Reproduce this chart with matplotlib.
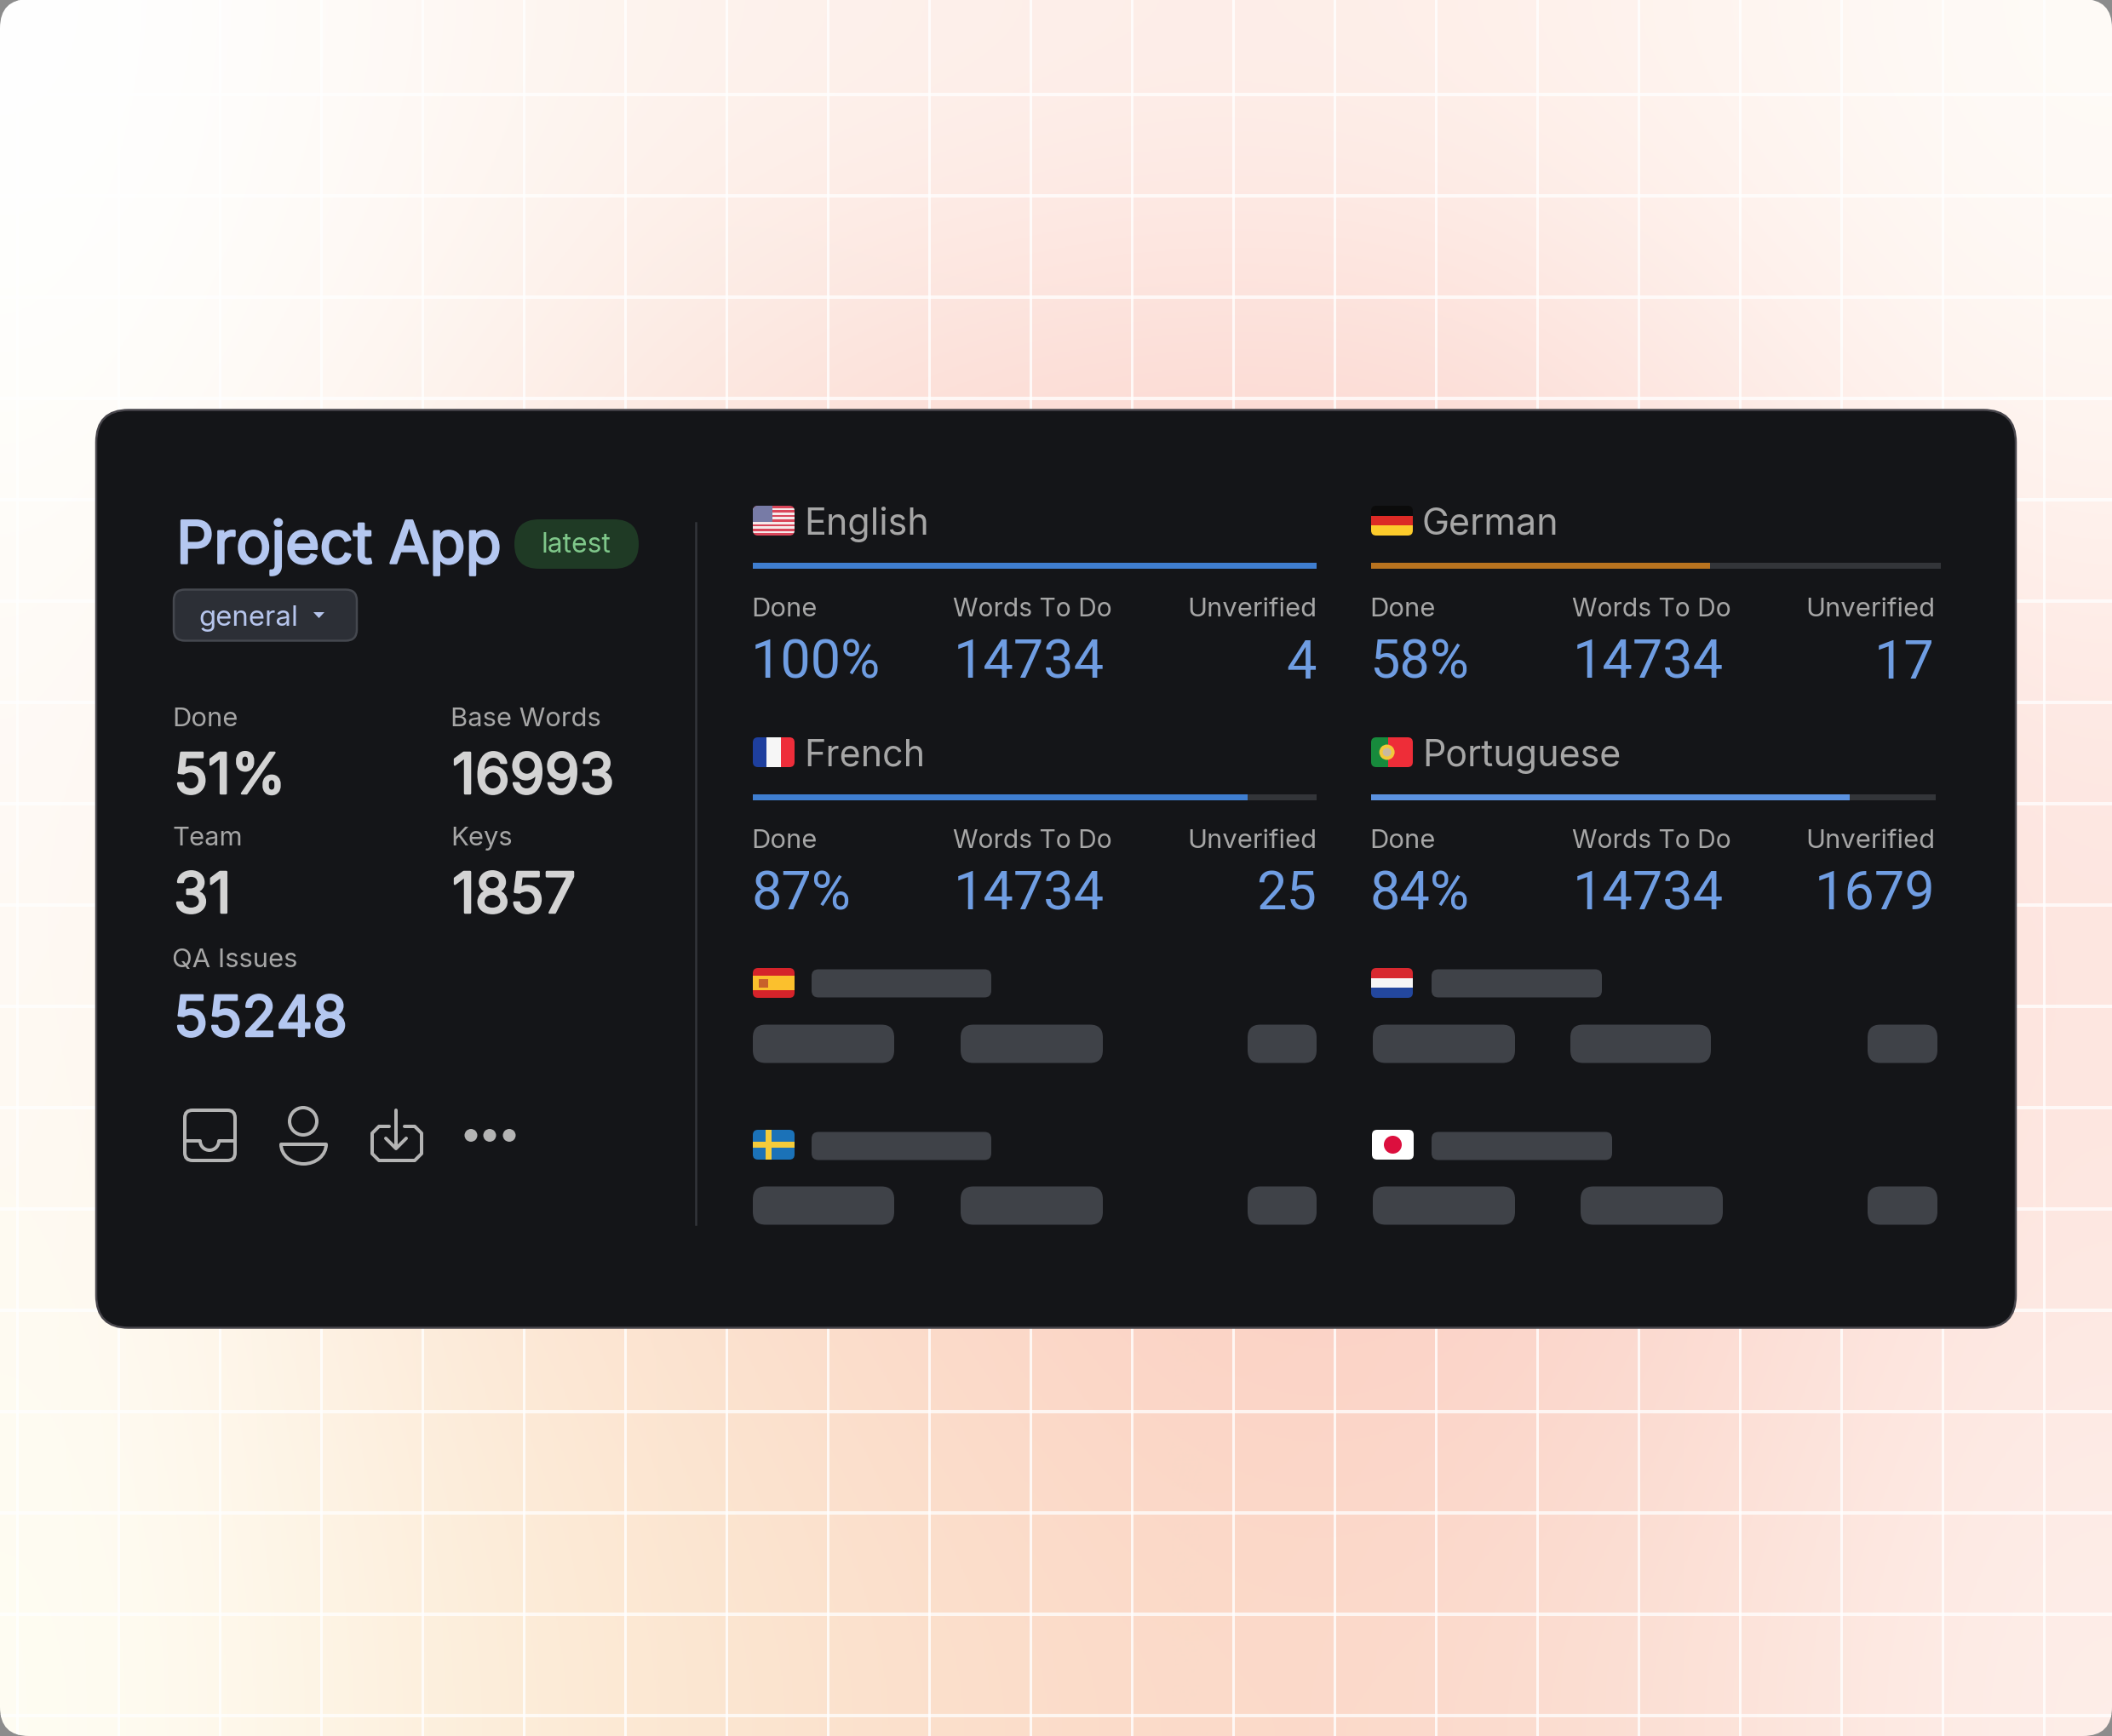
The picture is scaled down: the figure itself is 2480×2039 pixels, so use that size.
#Project dashboard card, drawn in pixel coordinates
import numpy as np
import matplotlib
matplotlib.use('Agg')
import matplotlib.pyplot as plt
from matplotlib import patheffects
from matplotlib.patches import FancyBboxPatch, Rectangle, Circle, Arc, Polygon

plt.rcParams['font.family'] = ['Inter', 'DejaVu Sans']

# DATA
project_name = 'Project App'
project_tag = 'latest'
branch_name = 'general'
summary_labels = ['Done', 'Base Words', 'Team', 'Keys', 'QA Issues']
summary_values = ['51%', '16993', '31', '1857', '55248']

languages = ['English', 'German', 'French', 'Portuguese']
done_pct = [100, 58, 87, 84]
bar_fill_pct = [100, 59.5, 87.8, 84.7]   # as drawn in the picture, not quite the printed %
words_to_do = [14734, 14734, 14734, 14734]
unverified = [4, 17, 25, 1679]
bar_colors = ['#3f7ed0', '#b8731f', '#3f7ed0', '#5b92e0']
column_labels = ['Done', 'Words To Do', 'Unverified']

# background colour samples, 8 columns by 6 rows
bg_samples = [
    ['#ffffff', '#fffaf6', '#fdf3ed', '#fef1ec', '#feeee9', '#fef0ea', '#fff5f0', '#fffbf7'],
    ['#fffefa', '#fef6f0', '#fce8e0', '#fcdcd4', '#fcd8d1', '#fcd9d2', '#fde8e3', '#fff6f1'],
    ['#fffaf6', '#fce8e0', '#fcdcd4', '#fcd6cf', '#fcd4cc', '#fcd4cd', '#fcdcd5', '#fee8e3'],
    ['#fffaf4', '#fce7da', '#fcdccd', '#fbd5c9', '#fbd1c7', '#fbd1c7', '#fcd9d0', '#fde6e0'],
    ['#fffbf2', '#fdeddc', '#fce3cf', '#fbdac9', '#fbd2c5', '#fbd1c6', '#fcdbd2', '#fee9e3'],
    ['#fffdf3', '#fdf1df', '#fce8d2', '#fbe0cc', '#fbdac8', '#fbdacc', '#fce2d8', '#feeee9'],
]

# LAYOUT
W, H = 2480, 2040
DPI = 100
grid_x0, grid_y0, grid_step = 20, 112, 119
card = (113, 482.5, 2254, 1078)
label_col = '#a6a6a6'
num_col = '#d3d3d3'
blue_col = '#6f9de2'
pale_col = '#b4c7f0'
skel_col = '#3f4248'
track_col = '#333539'
icon_col = '#b4b4b4'


def px(size):
    return size * 72 / DPI


fig = plt.figure(figsize=(W / DPI, H / DPI), dpi=DPI, facecolor='#8c8c8c')
ax = fig.add_axes([0, 0, 1, 1])
ax.axis('off')


def rbox(x, y, w, h, r, fc, ec='none', lw=0, z=3):
    p = FancyBboxPatch((x + r, y + r), w - 2 * r, h - 2 * r,
                       boxstyle=f'round,pad={r},rounding_size={r}',
                       fc=fc, ec=ec, lw=px(lw), zorder=z)
    ax.add_patch(p)
    return p


def txt(x, y, s, size, color, ha='left', bold=0, family=None):
    t = ax.text(x, y, s, fontsize=px(size), color=color, ha=ha, va='baseline', zorder=6)
    if family:
        t.set_family(family)
    if bold:
        t.set_path_effects([patheffects.withStroke(linewidth=px(bold), foreground=color)])
    return t


def stroke_line(xs, ys, lw=4):
    ax.plot(xs, ys, color=icon_col, lw=px(lw), solid_capstyle='round', solid_joinstyle='round', zorder=5)


# BACKGROUND
rgb = np.array([[matplotlib.colors.to_rgb(c) for c in row] for row in bg_samples])
page = rbox(0, 0, W, H, 34, 'none', z=0)
im = ax.imshow(rgb, extent=(0, W, H, 0), interpolation='bicubic', aspect='auto', zorder=1)
im.set_clip_path(page)
ax.set_xlim(0, W)
ax.set_ylim(H, 0)

for gx in np.arange(grid_x0, W, grid_step):
    ln = ax.axvline(gx, color='white', alpha=0.8, lw=px(3), zorder=2)
    ln.set_clip_path(page)
for gy in np.arange(grid_y0 % grid_step, H, grid_step):
    ln = ax.axhline(gy, color='white', alpha=0.75, lw=px(4), zorder=2)
    ln.set_clip_path(page)

# CARD
rbox(*card, 38, '#141518', ec='#47454b', lw=2.5, z=3)
ax.plot([817, 817], [615, 1439], color='#33353a', lw=px(2.5), zorder=4)

# LEFT PANEL
txt(207, 662.5, project_name, 69, pale_col, bold=2.5)
rbox(604, 611, 146, 58, 29, '#1f3a25', z=4)
txt(676, 649, project_tag, 32, '#7fc78a', ha='center')
rbox(204, 693.5, 215, 60, 13, '#2c2f36', ec='#45484f', lw=2.5, z=4)
txt(233, 735, branch_name, 33, '#b6c5ec')
ax.add_patch(Polygon([[368, 720], [381, 720], [374.5, 727]], fc='#b6c5ec', ec='none', zorder=5))

summary_x = [202, 529, 202, 529, 202]
summary_label_y = [853, 853, 993, 993, 1136]
summary_value_y = [933, 933, 1073, 1073, 1218]
summary_colors = [num_col, num_col, num_col, num_col, pale_col]
for i in range(len(summary_labels)):
    txt(summary_x[i], summary_label_y[i], summary_labels[i], 31, label_col)
    txt(summary_x[i] + 2, summary_value_y[i], summary_values[i], 66, summary_colors[i], bold=2.5)

# inbox icon
ax.add_patch(FancyBboxPatch((226, 1314), 41, 41, boxstyle='round,pad=9,rounding_size=9',
                            fc='none', ec=icon_col, lw=px(4), zorder=5))
stroke_line([217, 235], [1341, 1341])
stroke_line([257, 276], [1341, 1341])
ax.add_patch(Arc((246, 1341), 22, 22, theta1=0, theta2=180, ec=icon_col, lw=px(4), zorder=5))
# person icon
ax.add_patch(Circle((356, 1318), 16, fc='none', ec=icon_col, lw=px(4), zorder=5))
stroke_line([330, 383], [1345, 1345])
ax.add_patch(Arc((356.5, 1345), 53, 46, theta1=0, theta2=180, ec=icon_col, lw=px(4), zorder=5))
# download icon
stroke_line([457, 445, 437, 437, 445, 487, 495, 495, 487, 475],
            [1324, 1324, 1332, 1356, 1364, 1364, 1356, 1332, 1324, 1324])
stroke_line([465, 465], [1305, 1349])
stroke_line([453, 465, 477], [1338, 1350, 1338])
# dots
for dx in [553, 575, 598]:
    ax.add_patch(Circle((dx, 1334.5), 7.5, fc=icon_col, ec='none', zorder=5))


# FLAGS
def flag(x, y, code, w=49, h=35):
    clip = rbox(x, y, w, h, 6, 'none', z=4)
    parts = []

    def r(fx, fy, fw, fh, c):
        parts.append(Rectangle((x + fx * w, y + fy * h), fw * w, fh * h, fc=c, ec='none', zorder=5))

    if code == 'us':
        for k in range(13):
            r(0, k / 13, 1, 1 / 13, '#d9465a' if k % 2 == 0 else '#f6e9ea')
        r(0, 0, 0.46, 7 / 13, '#777ba6')
    elif code == 'de':
        r(0, 0, 1, 1 / 3, '#0b0b0b')
        r(0, 1 / 3, 1, 1 / 3, '#dc2a25')
        r(0, 2 / 3, 1, 1 / 3, '#fccb2b')
    elif code == 'fr':
        r(0, 0, 1 / 3, 1, '#1e3f9e')
        r(1 / 3, 0, 1 / 3, 1, '#f6f6f6')
        r(2 / 3, 0, 1 / 3, 1, '#ee2d3a')
    elif code == 'pt':
        r(0, 0, 0.4, 1, '#178a3c')
        r(0.4, 0, 0.6, 1, '#ee2d38')
        parts.append(Circle((x + 0.38 * w, y + 0.5 * h), 9, fc='#f2c93a', ec='none', zorder=6))
        parts.append(Circle((x + 0.38 * w, y + 0.5 * h), 5, fc='#c9b9a0', ec='none', zorder=6))
    elif code == 'es':
        r(0, 0, 1, 1, '#d5232a')
        r(0, 0.25, 1, 0.5, '#fbc02d')
        r(0.15, 0.36, 0.22, 0.3, '#c8602a')
    elif code == 'se':
        r(0, 0, 1, 1, '#1b72b8')
        r(0.3, 0, 0.15, 1, '#f4cb3a')
        r(0, 0.41, 1, 0.18, '#f4cb3a')
    elif code == 'nl':
        r(0, 0, 1, 1 / 3, '#d8282f')
        r(0, 1 / 3, 1, 1 / 3, '#f6f6f6')
        r(0, 2 / 3, 1, 1 / 3, '#23479e')
    elif code == 'jp':
        r(0, 0, 1, 1, '#ffffff')
        parts.append(Circle((x + 0.5 * w, y + 0.5 * h), 10.5, fc='#dc0f3e', ec='none', zorder=6))
    for p in parts:
        ax.add_patch(p)
        p.set_clip_path(clip)


# LANGUAGE PANELS
panel_x = [884, 1610, 884, 1610]
panel_top = [595, 595, 867, 867]
panel_w = [662, 669, 662, 663]
panel_flags = ['us', 'de', 'fr', 'pt']
words_x = [1120, 1847, 1120, 1847]
right_x = [1546, 2272, 1546, 2272]
num_font = ['Roboto', 'DejaVu Sans']
for i, lang in enumerate(languages):
    x0, top = panel_x[i], panel_top[i]
    flag(x0, top, panel_flags[i])
    txt(x0 + 60, top + 33, lang, 43, label_col)
    ax.barh(top + 70.5, panel_w[i], height=7, left=x0, color=track_col, zorder=4)
    ax.barh(top + 70.5, bar_fill_pct[i] / 100 * panel_w[i], height=7, left=x0, color=bar_colors[i], zorder=5)
    txt(x0 - 2, top + 129, column_labels[0], 31, label_col)
    txt(words_x[i] - 1, top + 129, column_labels[1], 30, label_col)
    txt(right_x[i], top + 129, column_labels[2], 31, label_col, ha='right')
    txt(x0 - 2, top + 202, f'{done_pct[i]}%', 63, blue_col, family=num_font)
    txt(words_x[i], top + 202, str(words_to_do[i]), 63, blue_col, family=num_font)
    txt(right_x[i], top + 202, str(unverified[i]), 63, blue_col, ha='right', family=num_font)

# SKELETON ROWS
skeleton_flags = [('es', 884, 1138), ('nl', 1610, 1138), ('se', 884, 1328), ('jp', 1611, 1328)]
skeleton_title = [(953, 1139.5, 211), (1681, 1139.5, 200), (953, 1330.5, 211), (1681, 1330.5, 212)]
skeleton_row = [
    (1204.5, [(884, 166), (1128, 167), (1465, 81)]),
    (1204.5, [(1612, 167), (1844, 165), (2193, 82)]),
    (1394.5, [(884, 166), (1128, 167), (1465, 81)]),
    (1394.5, [(1612, 167), (1856, 167), (2193, 82)]),
]
for f in skeleton_flags:
    flag(f[1], f[2], f[0])
for tx, ty, tw in skeleton_title:
    rbox(tx, ty, tw, 33, 8, skel_col, z=4)
for ry, boxes in skeleton_row:
    for bx, bw in boxes:
        rbox(bx, ry, bw, 45, 15, skel_col, z=4)

fig.savefig('out.png', dpi=DPI, facecolor=fig.get_facecolor())
